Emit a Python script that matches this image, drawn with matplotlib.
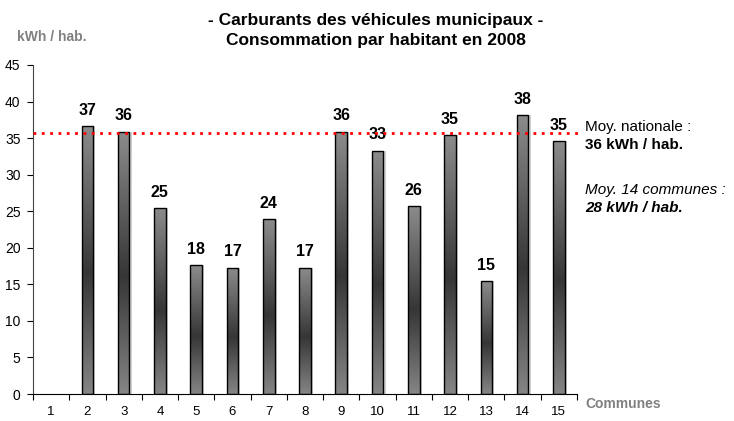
import numpy as np
import matplotlib
matplotlib.use("Agg")
import matplotlib.pyplot as plt
from matplotlib.colors import LinearSegmentedColormap

plt.rcParams['font.family'] = ['Liberation Sans', 'DejaVu Sans']

communes = [1, 2, 3, 4, 5, 6, 7, 8, 9, 10, 11, 12, 13, 14, 15]
values = [None, 36.7, 35.9, 25.45, 17.6, 17.3, 23.9, 17.3, 35.9, 33.3, 25.7, 35.4, 15.4, 38.1, 34.6]
labels = ["", "37", "36", "25", "18", "17", "24", "17", "36", "33", "26", "35", "15", "38", "35"]
national_avg = 35.7
title_lines = ["- Carburants des véhicules municipaux -", "Consommation par habitant en 2008"]

W, H = 734, 421
fig = plt.figure(figsize=(W/100, H/100), dpi=100)
ax = fig.add_axes([33/W, 1-394/H, (577-33)/W, (394-65)/H])

cmap = LinearSegmentedColormap.from_list(
    "bargrad", [(0.0, "#8c8c8c"), (0.55, "#363636"), (1.0, "#858585")])
grad = np.linspace(0, 1, 256).reshape(-1, 1)

xs = [c for c, v in zip(communes, values) if v is not None]
hs = [v for v in values if v is not None]
bw = 0.32

# subtle shadow
ax.bar(np.array(xs) + 0.06, hs, width=bw, bottom=0, color="#d0d0d0",
       edgecolor="none", zorder=1)
bars = ax.bar(xs, hs, width=bw, color="none", edgecolor="black",
              linewidth=1.0, zorder=3)
for b in bars:
    x0, w, h = b.get_x(), b.get_width(), b.get_height()
    im = ax.imshow(grad, cmap=cmap, extent=[x0, x0 + w, 0, h], origin="upper",
                   aspect="auto", zorder=2, interpolation="bicubic")
    im.set_clip_path(b)

for x, v, lab in zip(communes, values, labels):
    if v is not None:
        ax.annotate(lab, (x, v), xytext=(0, 8), textcoords="offset points",
                    ha="center", va="baseline", fontsize=11.5, fontweight="bold")

ax.set_xlim(0.5, 15.5)
ax.set_ylim(0, 45)
ax.plot([0.5, 15.6], [national_avg, national_avg], linestyle=(0, (1, 2)),
        color="#ff0000", linewidth=2, zorder=4, clip_on=False)

ax.set_yticks(range(0, 46, 5))
ax.set_xticks(communes)
ax.set_xticklabels([str(c) for c in communes])
ax.set_xticks(np.arange(0.5, 15.6, 1), minor=True)
ax.tick_params(axis="x", which="major", length=0, pad=8.5, labelsize=9.5)
ax.tick_params(axis="x", which="minor", length=4, direction="out", width=0.8)
ax.tick_params(axis="y", length=4, direction="out", width=0.8, labelsize=10, pad=5)
for s in ["top", "right"]:
    ax.spines[s].set_visible(False)
ax.spines["left"].set_color("#444444")
ax.spines["bottom"].set_color("black")

fig.text(376/W, 1-25/H, title_lines[0], ha="center", va="baseline",
         fontsize=12.5, fontweight="bold")
fig.text(376/W, 1-45/H, title_lines[1], ha="center", va="baseline",
         fontsize=12.5, fontweight="bold")
fig.text(17/W, 1-41/H, "kWh / hab.", ha="left", va="baseline", fontsize=10,
         fontweight="bold", color="#808080")
fig.text(585/W, 1-408/H, "Communes", ha="left", va="baseline", fontsize=10,
         fontweight="bold", color="#808080")

fig.text(585/W, 1-131/H, "Moy. nationale :", ha="left", va="baseline", fontsize=11)
fig.text(585/W, 1-149/H, "36 kWh / hab.", ha="left", va="baseline", fontsize=11,
         fontweight="bold")
fig.text(585/W, 1-194/H, "Moy. 14 communes :", ha="left", va="baseline",
         fontsize=11, fontstyle="italic")
fig.text(585/W, 1-212/H, "28 kWh / hab.", ha="left", va="baseline", fontsize=11,
         fontstyle="italic", fontweight="bold")

fig.savefig("out.png", dpi=100)
